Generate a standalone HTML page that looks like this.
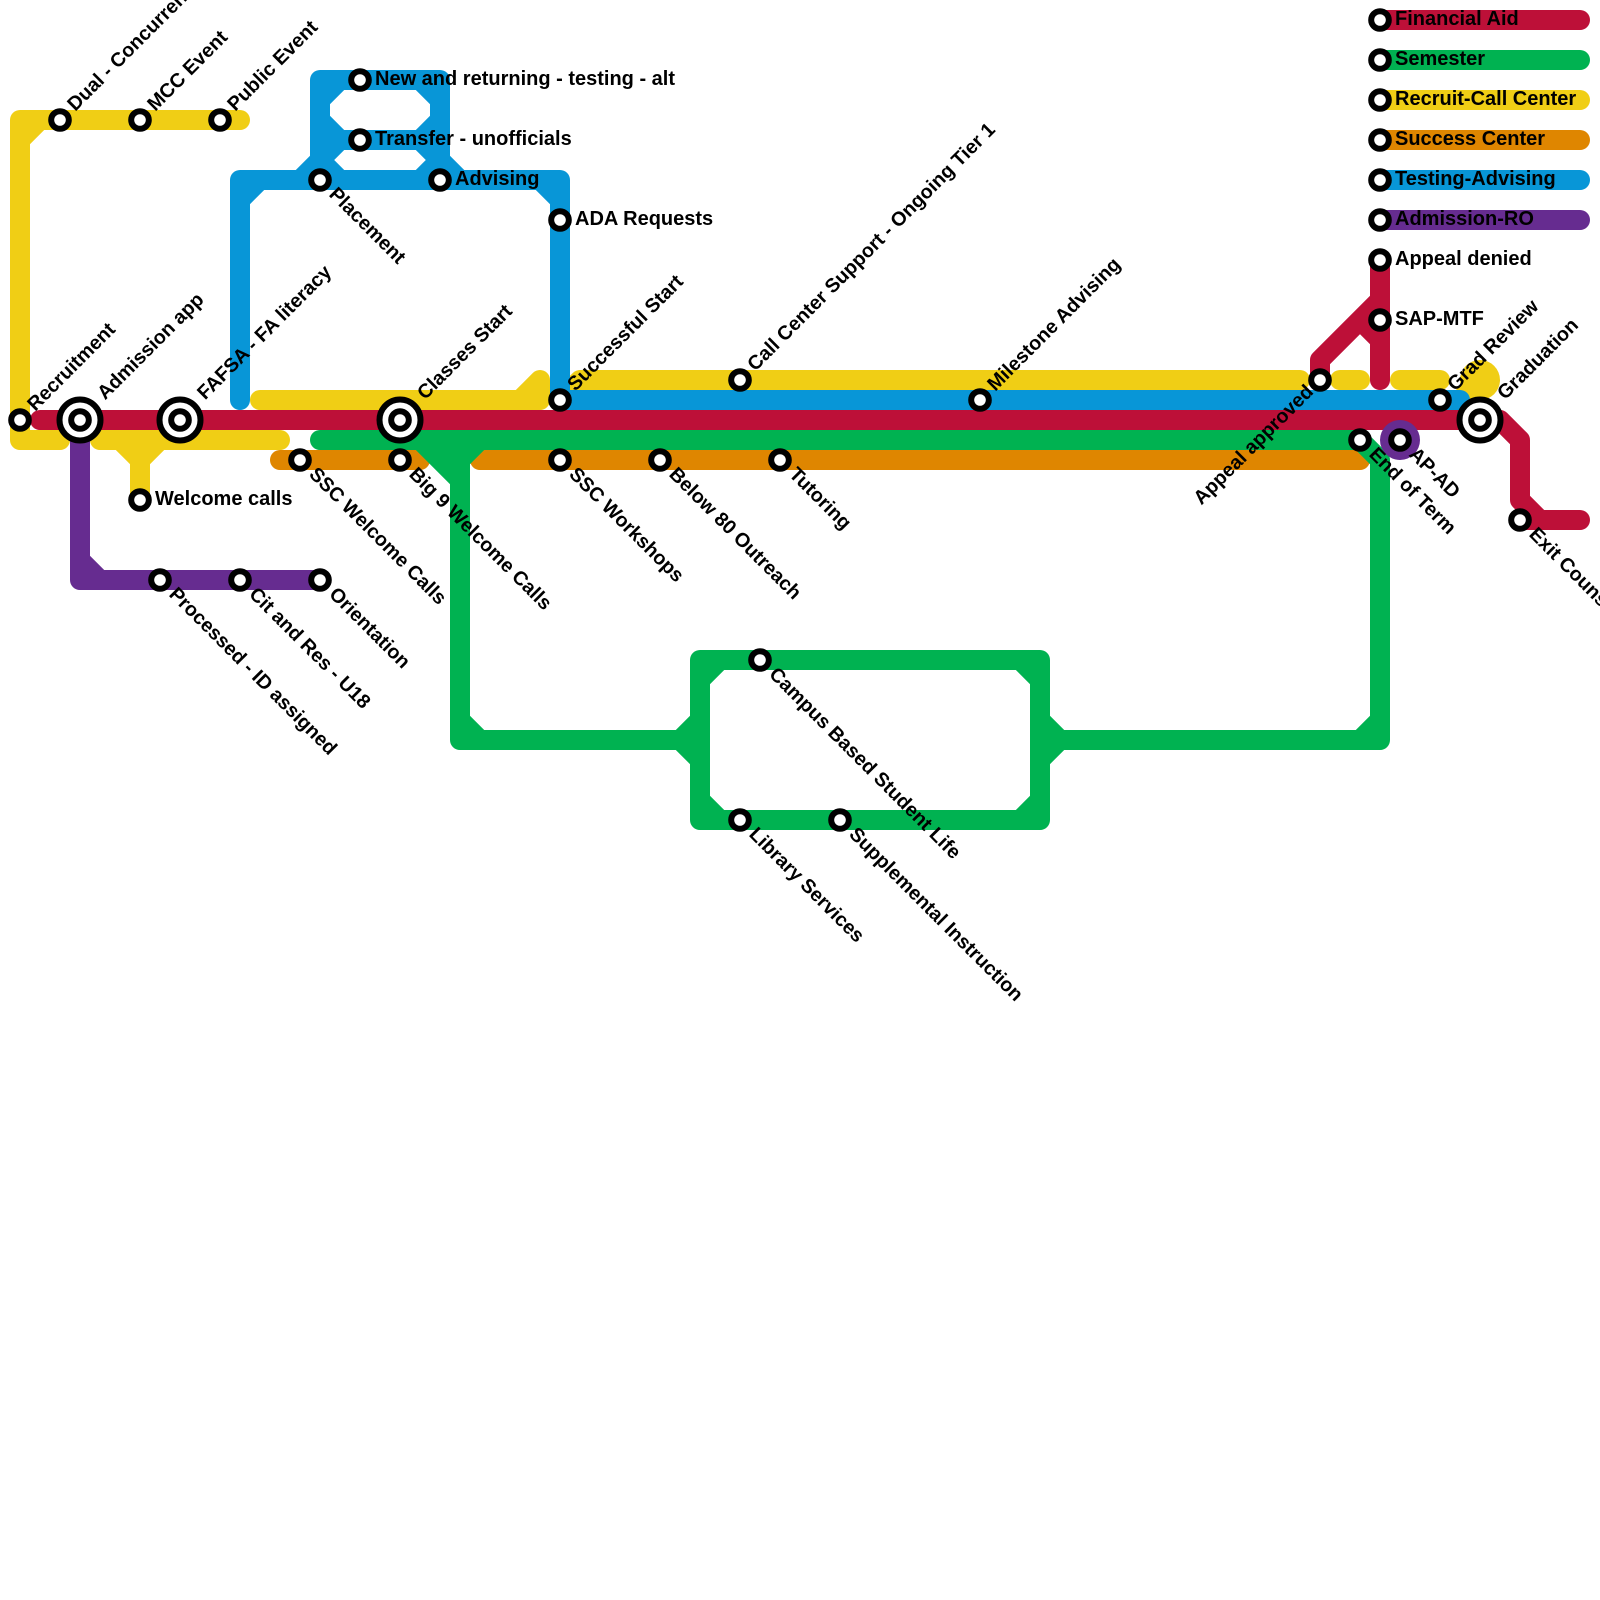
<!DOCTYPE html>
<html><head><meta charset="utf-8"><style>
html,body{margin:0;padding:0;background:#fff;width:1600px;height:1600px;overflow:hidden}
svg{display:block}
.l{fill:none;stroke-width:20;stroke-linecap:round;stroke-linejoin:round}
.s{fill:#fff;stroke:#000;stroke-width:6}
text{font-family:"Liberation Sans",sans-serif;font-weight:bold;font-size:20px;fill:#000}
.r text{font-size:19.7px}
</style></head><body>
<svg width="1600" height="1600" viewBox="0 0 1600 1600" xmlns="http://www.w3.org/2000/svg">
<rect width="1600" height="1600" fill="#fff"/>
<!-- orange -->
<path class="l" stroke="#df8600" d="M280 460H420M480 460H1360M1380 140H1580"/>
<!-- yellow -->
<path class="l" stroke="#f0ce15" d="M240 120H20V440H60M40 120L20 140M100 440H280M120 440L140 460L160 440M140 440V500M260 400H540M520 400L540 380V400M580 380H1300M560 400L580 380M1340 380H1360M1400 380H1440M1480 380L1460 400M1380 100H1580"/>
<circle cx="1480" cy="380" r="20" fill="#f0ce15"/>
<!-- blue -->
<path class="l" stroke="#0896d7" d="M240 400V180H560V400H1460M260 180L240 200M540 180L560 200M320 160V80H440V160M340 80L320 100M420 80L440 100M320 120L340 140H420L440 120M320 160L340 140M440 160L420 140M300 180L320 160L340 180M420 180L440 160L460 180M1380 180H1580"/>
<!-- green -->
<path class="l" stroke="#00b251" d="M320 440H1360L1380 460V740H1040M700 740H460V440M420 440L460 480M480 440L460 460M440 440L460 460M460 720L480 740M1360 740L1380 720M700 660H1040V820H700ZM720 660L700 680M1020 660L1040 680M700 800L720 820M1040 800L1020 820M680 740L700 720M680 740L700 760M1040 720L1060 740L1040 760M1380 60H1580"/>
<!-- red -->
<path class="l" stroke="#bd1038" d="M40 420H1500L1520 440V500L1540 520H1580M1520 520H1540M1320 380V360L1380 300V260M1380 300V380M1360 320L1380 340M1380 20H1580"/>
<!-- purple -->
<path class="l" stroke="#662c90" d="M80 420V580H320M80 560L100 580M1380 220H1580"/>
<circle cx="1400" cy="440" r="20" fill="#662c90"/>
<!-- stations -->
<g class="s">
<circle class="s" cx="60" cy="120" r="8.8"/><circle class="s" cx="140" cy="120" r="8.8"/><circle class="s" cx="220" cy="120" r="8.8"/>
<circle class="s" cx="20" cy="420" r="8.8"/><circle class="s" cx="140" cy="500" r="8.8"/>
<circle class="s" cx="360" cy="80" r="8.8"/><circle class="s" cx="360" cy="140" r="8.8"/><circle class="s" cx="320" cy="180" r="8.8"/><circle class="s" cx="440" cy="180" r="8.8"/><circle class="s" cx="560" cy="220" r="8.8"/>
<circle class="s" cx="560" cy="400" r="8.8"/><circle class="s" cx="740" cy="380" r="8.8"/><circle class="s" cx="980" cy="400" r="8.8"/>
<circle class="s" cx="300" cy="460" r="8.8"/><circle class="s" cx="400" cy="460" r="8.8"/><circle class="s" cx="560" cy="460" r="8.8"/><circle class="s" cx="660" cy="460" r="8.8"/><circle class="s" cx="780" cy="460" r="8.8"/>
<circle class="s" cx="160" cy="580" r="8.8"/><circle class="s" cx="240" cy="580" r="8.8"/><circle class="s" cx="320" cy="580" r="8.8"/>
<circle class="s" cx="760" cy="660" r="8.8"/><circle class="s" cx="740" cy="820" r="8.8"/><circle class="s" cx="840" cy="820" r="8.8"/>
<circle class="s" cx="1320" cy="380" r="8.8"/><circle class="s" cx="1360" cy="440" r="8.8"/><circle class="s" cx="1400" cy="440" r="8.8"/><circle class="s" cx="1440" cy="400" r="8.8"/><circle class="s" cx="1520" cy="520" r="8.8"/>
<circle class="s" cx="1380" cy="20" r="8.8"/><circle class="s" cx="1380" cy="60" r="8.8"/><circle class="s" cx="1380" cy="100" r="8.8"/><circle class="s" cx="1380" cy="140" r="8.8"/><circle class="s" cx="1380" cy="180" r="8.8"/><circle class="s" cx="1380" cy="220" r="8.8"/><circle class="s" cx="1380" cy="260" r="8.8"/><circle class="s" cx="1380" cy="320" r="8.8"/>
<circle class="s" cx="80" cy="420" r="20.5"/><circle class="s" cx="80" cy="420" r="8.8"/>
<circle class="s" cx="180" cy="420" r="20.5"/><circle class="s" cx="180" cy="420" r="8.8"/>
<circle class="s" cx="400" cy="420" r="20.5"/><circle class="s" cx="400" cy="420" r="8.8"/>
<circle class="s" cx="1480" cy="420" r="20.5"/><circle class="s" cx="1480" cy="420" r="8.8"/>
</g>
<!-- horizontal labels -->
<text x="375" y="85">New and returning - testing - alt</text>
<text x="375" y="145">Transfer - unofficials</text>
<text x="455" y="185">Advising</text>
<text x="575" y="225">ADA Requests</text>
<text x="155" y="505">Welcome calls</text>
<text x="1395" y="265">Appeal denied</text>
<text x="1395" y="325">SAP-MTF</text>
<text x="1395" y="25">Financial Aid</text>
<text x="1395" y="65">Semester</text>
<text x="1395" y="105">Recruit-Call Center</text>
<text x="1395" y="145">Success Center</text>
<text x="1395" y="185">Testing-Advising</text>
<text x="1395" y="225">Admission-RO</text>
<!-- up-right labels -->
<g class="r">
<text transform="translate(60 120) rotate(-45)" x="16.5" y="5">Dual - Concurrent Enrollment</text>
<text transform="translate(140 120) rotate(-45)" x="16.5" y="5">MCC Event</text>
<text transform="translate(220 120) rotate(-45)" x="16.5" y="5">Public Event</text>
<text transform="translate(20 420) rotate(-45)" x="16.5" y="5">Recruitment</text>
<text transform="translate(80 420) rotate(-45)" x="31.5" y="4">Admission app</text>
<text transform="translate(180 420) rotate(-45)" x="31.5" y="4">FAFSA - FA literacy</text>
<text transform="translate(400 420) rotate(-45)" x="31.5" y="4">Classes Start</text>
<text transform="translate(560 400) rotate(-45)" x="16.5" y="5">Successful Start</text>
<text transform="translate(740 380) rotate(-45)" x="16.5" y="5">Call Center Support - Ongoing Tier 1</text>
<text transform="translate(980 400) rotate(-45)" x="16.5" y="5">Milestone Advising</text>
<text transform="translate(1440 400) rotate(-45)" x="16.5" y="5">Grad Review</text>
<text transform="translate(1480 420) rotate(-45)" x="31.5" y="4">Graduation</text>
<text transform="translate(1320 380) rotate(-45)" x="-13" y="5" text-anchor="end">Appeal approved</text>
</g>
<!-- down-right labels -->
<g class="r">
<text transform="translate(320 180) rotate(45)" x="16.5" y="5">Placement</text>
<text transform="translate(300 460) rotate(45)" x="16.5" y="5">SSC Welcome Calls</text>
<text transform="translate(400 460) rotate(45)" x="16.5" y="5">Big 9 Welcome Calls</text>
<text transform="translate(560 460) rotate(45)" x="16.5" y="5">SSC Workshops</text>
<text transform="translate(660 460) rotate(45)" x="16.5" y="5">Below 80 Outreach</text>
<text transform="translate(780 460) rotate(45)" x="16.5" y="5">Tutoring</text>
<text transform="translate(160 580) rotate(45)" x="16.5" y="5">Processed - ID assigned</text>
<text transform="translate(240 580) rotate(45)" x="16.5" y="5">Cit and Res - U18</text>
<text transform="translate(320 580) rotate(45)" x="16.5" y="5">Orientation</text>
<text transform="translate(760 660) rotate(45)" x="16.5" y="5">Campus Based Student Life</text>
<text transform="translate(740 820) rotate(45)" x="16.5" y="5">Library Services</text>
<text transform="translate(840 820) rotate(45)" x="16.5" y="5">Supplemental Instruction</text>
<text transform="translate(1360 440) rotate(45)" x="16.5" y="5">End of Term</text>
<text transform="translate(1400 440) rotate(45)" x="16.5" y="5">AP-AD</text>
<text transform="translate(1520 520) rotate(45)" x="16.5" y="5">Exit Counseling</text>
</g>
</svg>
</body></html>
